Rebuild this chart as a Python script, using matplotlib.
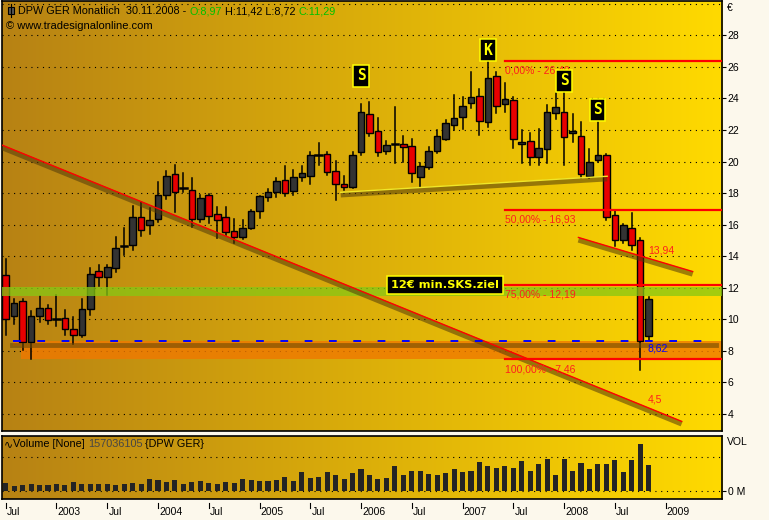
import numpy as np
import matplotlib.pyplot as plt
import matplotlib.transforms as mtransforms
from matplotlib.patches import Rectangle

plt.rcParams['font.family'] = ['Liberation Sans', 'DejaVu Sans']

# DPW GER monthly candles, Jul 2002 .. Nov 2008 (index 0 = Jul 2002)
opens = [12.82, 10.18, 11.16, 8.56, 10.23, 10.71, 10.02, 10.08, 9.39, 9.00,
         10.65, 13.09, 12.71, 13.25, 14.64, 14.70, 16.47, 15.97, 16.34, 17.89,
         19.22, 18.30, 18.20, 16.35, 17.89, 16.68, 16.49, 15.60, 15.25, 15.78,
         16.89, 17.74, 18.09, 18.84, 18.16, 19.05, 19.11, 20.42, 20.47, 19.39,
         18.57, 18.42, 20.59, 23.00, 21.93, 20.69, 21.13, 21.10, 20.99, 19.05,
         19.68, 20.67, 21.46, 22.35, 22.85, 23.70, 24.16, 22.54, 25.43, 23.64,
         23.91, 21.10, 21.29, 20.32, 20.78, 23.06, 23.13, 21.80, 21.63, 19.09,
         20.11, 20.42, 16.60, 15.04, 15.78, 15.04, 8.97]
highs = [13.81, 11.31, 11.28, 10.55, 11.50, 10.93, 11.56, 10.60, 10.15, 11.28,
         13.25, 13.45, 13.45, 15.24, 15.80, 17.18, 17.46, 17.03, 18.73, 19.43,
         19.78, 19.30, 18.95, 17.89, 17.92, 17.14, 17.14, 16.36, 16.31, 16.91,
         17.82, 18.26, 18.99, 19.72, 19.47, 19.72, 20.61, 21.16, 20.63, 20.06,
         19.09, 20.61, 23.65, 23.76, 22.75, 21.32, 23.44, 21.61, 21.42, 19.93,
         20.94, 22.01, 22.66, 24.23, 24.12, 25.71, 24.58, 26.40, 25.66, 24.97,
         24.12, 22.01, 21.80, 22.05, 23.59, 24.37, 24.43, 23.02, 22.54, 20.80,
         22.54, 20.49, 16.90, 16.05, 16.77, 15.15, 11.42]
lows = [9.00, 9.72, 8.05, 7.46, 9.81, 9.72, 9.60, 9.02, 8.46, 8.90,
        10.29, 12.12, 11.56, 12.97, 14.10, 14.41, 15.30, 15.41, 16.14, 17.62,
        16.83, 18.09, 15.88, 16.14, 16.11, 15.14, 15.35, 14.87, 15.07, 15.70,
        16.41, 17.47, 17.78, 17.82, 17.89, 18.74, 18.56, 19.78, 19.15, 17.57,
        18.20, 18.32, 20.42, 21.65, 20.36, 20.49, 19.89, 19.99, 18.73, 18.42,
        19.51, 20.53, 21.35, 22.01, 22.05, 23.38, 21.69, 22.22, 23.06, 23.17,
        20.85, 19.93, 19.78, 19.78, 19.89, 22.69, 19.78, 21.21, 18.99, 18.99,
        19.99, 16.30, 14.62, 14.83, 14.41, 6.81, 8.72]
closes = [10.02, 11.04, 8.56, 10.21, 10.71, 9.93, 10.04, 9.39, 9.00, 10.64,
          12.89, 12.71, 13.31, 14.52, 14.68, 16.47, 15.66, 16.30, 17.88, 19.09,
          18.09, 18.34, 16.39, 17.68, 16.58, 16.29, 15.56, 15.25, 15.78, 16.88,
          17.80, 18.06, 18.76, 18.03, 19.01, 19.26, 20.39, 20.46, 19.36, 18.55,
          18.36, 20.40, 23.13, 21.84, 20.63, 21.03, 21.17, 20.91, 19.30, 19.72,
          20.67, 21.63, 22.46, 22.77, 23.52, 24.08, 22.60, 25.28, 23.55, 23.95,
          21.42, 21.27, 20.32, 20.84, 23.13, 23.44, 21.58, 21.97, 19.22, 19.97,
          20.42, 16.51, 15.04, 15.97, 14.70, 8.64, 11.29]
volume_m = [47, 31, 35, 41, 35, 35, 41, 35, 53, 41,
            41, 41, 41, 35, 41, 47, 41, 71, 65, 53,
            65, 41, 53, 59, 47, 41, 53, 47, 71, 65,
            59, 59, 65, 84, 59, 114, 78, 84, 114, 96,
            71, 108, 133, 96, 73, 78, 151, 96, 120, 120,
            102, 96, 108, 133, 114, 120, 175, 151, 139, 151,
            139, 181, 120, 163, 194, 96, 194, 120, 169, 133,
            163, 163, 188, 114, 188, 285, 157.04]

tick_months = [0, 6, 12, 18, 24, 30, 36, 42, 48, 54, 60, 66, 72, 78]
tick_labels = ['Jul', '2003', 'Jul', '2004', 'Jul', '2005', 'Jul', '2006',
               'Jul', '2007', 'Jul', '2008', 'Jul', '2009']
price_ticks = list(range(4, 30, 2))

fib_levels = [26.40, 16.93, 12.19, 7.46]
fib_labels = ['0,00% - 26,40', '50,00% - 16,93', '75,00% - 12,19', '100,00% - 7,46']
long_trend_m, long_trend_p = [-0.5, 79.9], [21.06, 3.53]
short_trend_m, short_trend_p = [67.7, 81.2], [15.19, 13.03]
neck_m, neck_p = [39.6, 71.1], [18.05, 19.07]
support = 8.62
green_zone = (11.51, 12.03)
marks_m = [42, 57, 66, 70]
marks_p = [25.43, 27.07, 25.11, 23.27]
marks_txt = ['S', 'K', 'S', 'S']

W, H = 769, 520


def rect(x0, y0, x1, y1):
    return [x0 / W, 1 - y1 / H, (x1 - x0) / W, (y1 - y0) / H]


fig = plt.figure(figsize=(W / 100, H / 100), dpi=100, facecolor='#fcf8ec')
ax = fig.add_axes(rect(1.5, 1, 722, 431))
axv = fig.add_axes(rect(1.5, 436, 722, 499))

XL = (-0.5, 84.67)
YL = (2.92, 30.18)
VL = (-50.7, 334)

grad = np.linspace(0, 1, 256)
c0 = np.array([183, 130, 20]) / 255
c1 = np.array([255, 218, 0]) / 255
img = (c0[None, :] * (1 - grad[:, None]) + c1[None, :] * grad[:, None])[None, :, :]
for a, yl in ((ax, YL), (axv, VL)):
    a.imshow(img, extent=(XL[0], XL[1], yl[0], yl[1]), aspect='auto',
             zorder=0, interpolation='bilinear')
    a.set_xlim(*XL)
    a.set_ylim(*yl)
    a.set_xticks([])
    for s in a.spines.values():
        s.set_linewidth(1.2)

dots = (0, (1, 4.2))
for p in range(4, 31, 2):
    ax.axhline(p, color='black', lw=0.8, ls=dots, zorder=1)
for p in (0, 204):
    axv.axhline(p, color='black', lw=0.8, ls=dots, zorder=1)

# bands
ax.axhspan(*green_zone, color='#86c814', alpha=0.75, lw=0, zorder=5)
ax.add_patch(Rectangle((0.85, 8.3), XL[1], support - 8.3, color='#f07800',
                       alpha=0.8, lw=0, zorder=2))
ax.add_patch(Rectangle((1.8, fib_levels[3]), XL[1], 8.3 - fib_levels[3],
                       color='#f07800', alpha=0.8, lw=0, zorder=2))

# candles
n = len(opens)
months = np.arange(n)
bw = 0.78
for i in range(n):
    o, h, l, c = opens[i], highs[i], lows[i], closes[i]
    ax.plot([i, i], [l, h], color='black', lw=1.1, zorder=3)
    if abs(c - o) < 0.1:
        ax.plot([i - bw / 2, i + bw / 2], [o, o], color='black', lw=1.8, zorder=4)
        continue
    fc = '#333333' if c > o else '#e80000'
    ax.add_patch(Rectangle((i - bw / 2, min(o, c)), bw, abs(c - o), fc=fc,
                           ec='black', lw=1.0, zorder=4))


# trend lines with shadow
def shade(a, dy):
    return a.transData + mtransforms.ScaledTranslation(0, dy / 100, fig.dpi_scale_trans)


for xs, ys, col in ((long_trend_m, long_trend_p, '#ff0000'),
                    (short_trend_m, short_trend_p, '#ff0000'),
                    (neck_m, neck_p, '#f0e628')):
    ax.plot(xs, ys, color='#50390a', alpha=0.55, lw=3.8, zorder=6,
            transform=shade(ax, -2.5), solid_capstyle='butt')
    ax.plot(xs, ys, color=col, lw=1.0, zorder=7)

ax.plot([0.75, 84.0], [support, support], color='#6e4a05', alpha=0.6, lw=3.5,
        zorder=6, transform=shade(ax, -4))
ax.plot([0.86, 83.6], [support, support], color='#0000ff', lw=1.4,
        ls=(0, (4, 8.5)), zorder=7)

for lev, lab in zip(fib_levels, fib_labels):
    ax.plot([59.0, XL[1]], [lev, lev], color='#ff0000', lw=1.6, zorder=8)
    ax.text(59.0, lev - 0.62, lab, color='#ff1e1e', fontsize=7.5,
            ha='left', va='center', zorder=8)

ax.text(75.9, 14.34, '13,94', color='#ff1e1e', fontsize=7.5, va='center', zorder=9)
ax.text(75.9, 4.91, '4,5', color='#ff1e1e', fontsize=7.5, va='center', zorder=9)
ax.text(75.9, 8.14, '8,62', color='#0000ff', fontsize=7.5, va='center', zorder=9)

for m, p, t in zip(marks_m, marks_p, marks_txt):
    ax.text(m, p, t, color='#ffff00', fontsize=10.5, fontweight='bold',
            family='DejaVu Sans Mono', ha='center', va='center', zorder=10,
            bbox=dict(boxstyle='square,pad=0.22', fc='black', ec='#ffff00', lw=1.1))

ax.text(51.9, 12.19, '12€ min.SKS.ziel', color='#ffff00', fontsize=8.2,
        fontweight='bold', family='DejaVu Sans', ha='center', va='center', zorder=10,
        bbox=dict(boxstyle='square,pad=0.35', fc='black', ec='#ffff00', lw=1.1))

# right price axis
ax.yaxis.tick_right()
ax.set_yticks(price_ticks)
ax.set_yticklabels([str(p) for p in price_ticks])
ax.tick_params(axis='y', direction='out', length=3, width=0.8, pad=1, labelsize=7.5)
fig.text(727 / W, 1 - 8 / H, '€', fontsize=7.5, va='center')

# volume
axv.bar(months, volume_m, width=0.6, color='#242424', zorder=3)
axv.yaxis.tick_right()
axv.set_yticks([0])
axv.set_yticklabels(['0 M'])
axv.tick_params(axis='y', direction='out', length=3, width=0.8, pad=1, labelsize=7.5)
fig.text(727 / W, 1 - 442 / H, 'VOL', fontsize=7.5, va='center')

# time axis
bt = mtransforms.blended_transform_factory(axv.transData, fig.transFigure)
for m, lab in zip(tick_months, tick_labels):
    fig.lines.append(plt.Line2D([m, m], [1 - 503 / H, 1 - 508 / H], color='black',
                                lw=0.8, transform=bt))
    fig.text(m + 0.15, 1 - 512 / H, lab, fontsize=7.5, ha='left', va='center',
             transform=bt)

# headers
fig.patches.append(Rectangle((8 / W, 1 - 14 / H), 6 / W, 7 / H, fc='#555555',
                             ec='black', lw=0.8, transform=fig.transFigure))
fig.lines.append(plt.Line2D([11 / W, 11 / W], [1 - 4 / H, 1 - 17 / H], color='black',
                            lw=0.8, transform=fig.transFigure))
t1 = fig.text(18 / W, 1 - 11 / H, 'DPW GER Monatlich  30.11.2008 - ', fontsize=7.8,
              va='center')
t2 = ax.annotate('O:8,97', xy=(1, 0), xycoords=t1, va='bottom', color='#00c000',
                 fontsize=7.8, annotation_clip=False)
t3 = ax.annotate(' H:11,42 L:8,72 ', xy=(1, 0), xycoords=t2, va='bottom',
                 color='black', fontsize=7.8, annotation_clip=False)
ax.annotate('C:11,29', xy=(1, 0), xycoords=t3, va='bottom', color='#00c000',
            fontsize=7.8, annotation_clip=False)
fig.text(6 / W, 1 - 26 / H, '© www.tradesignalonline.com', fontsize=8, va='center')

v1 = fig.text(4 / W, 1 - 444 / H, '∿', family='DejaVu Sans', fontsize=7.8, va='center')
v2 = axv.annotate('Volume [None] ', xy=(1, 0), xycoords=v1, va='bottom', fontsize=7.8,
                  annotation_clip=False)
v3 = axv.annotate('157036105', xy=(1, 0), xycoords=v2, va='bottom', fontsize=7.8,
                  color='#464646', annotation_clip=False)
axv.annotate(' {DPW GER}', xy=(1, 0), xycoords=v3, va='bottom', fontsize=7.8,
             annotation_clip=False)

fig.savefig('out.png', dpi=100, facecolor=fig.get_facecolor())
